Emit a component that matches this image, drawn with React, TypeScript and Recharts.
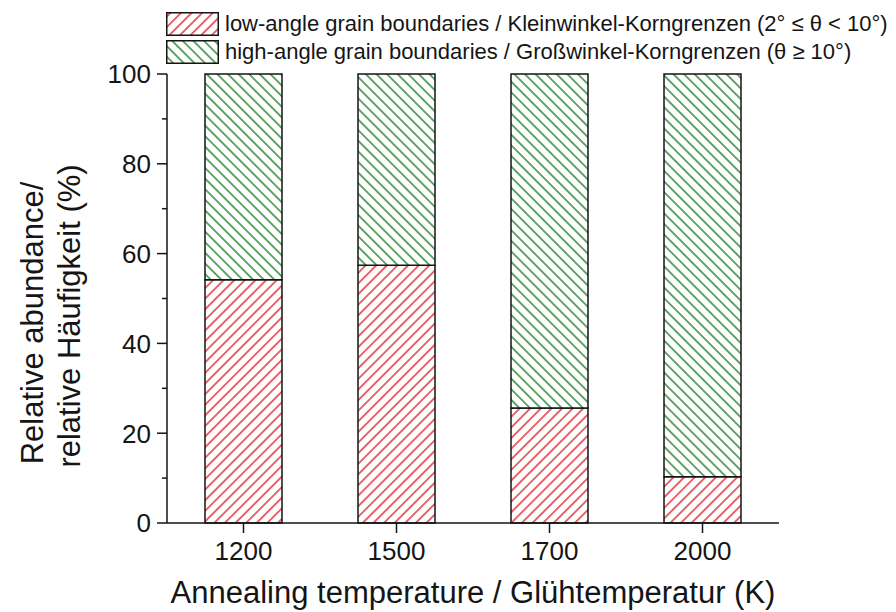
import { BarChart, Bar, XAxis, YAxis } from "recharts";

const temperatures = ["1200", "1500", "1700", "2000"];
const lowAngleShare = [54.2, 57.4, 25.6, 10.3];
const highAngleShare = [45.8, 42.6, 74.4, 89.7];
const yTicks = [0, 10, 20, 30, 40, 50, 60, 70, 80, 90, 100];

const lowLabel = "low-angle grain boundaries / Kleinwinkel-Korngrenzen (2° ≤ θ < 10°)";
const highLabel = "high-angle grain boundaries / Großwinkel-Korngrenzen (θ ≥ 10°)";

const data = temperatures.map((t, i) => ({
  temp: t,
  low: lowAngleShare[i],
  high: highAngleShare[i],
}));

const FONT = "'Liberation Sans', Arial, sans-serif";
const INK = "#151515";
const RED = "#e2343c";
const GREEN = "#2e8a38";

function Hatch({ id, color, angle }: { id: string; color: string; angle: number }) {
  return (
    <pattern id={id} width={7.5} height={7.5} patternUnits="userSpaceOnUse" patternTransform={`rotate(${angle})`}>
      <rect width={7.5} height={7.5} fill="#fff" />
      <line x1={3.75} y1={0} x2={3.75} y2={7.5} stroke={color} strokeWidth={1.5} />
    </pattern>
  );
}

const LeftTick = (props: any) => {
  const { x, y, payload } = props;
  const major = payload.value % 20 === 0;
  return (
    <g>
      <line x1={x - (major ? 10 : 5)} x2={x} y1={y} y2={y} stroke={INK} strokeWidth={1.5} />
      {major && (
        <text x={x - 16} y={y} dy="0.36em" textAnchor="end" fontSize={26} fill={INK} fontFamily={FONT}>
          {payload.value}
        </text>
      )}
    </g>
  );
};

const RightTick = (props: any) => {
  const { x, y, payload } = props;
  const major = payload.value % 20 === 0;
  return <line x1={x - (major ? 11 : 5)} x2={x} y1={y} y2={y} stroke={INK} strokeWidth={1.5} />;
};

const YTitle = () => (
  <g fontFamily={FONT} fontSize={31} fill={INK}>
    <text transform="translate(32,323) rotate(-90)" textAnchor="middle" dominantBaseline="central">
      Relative abundance/
    </text>
    <text transform="translate(69,316) rotate(-90)" textAnchor="middle" dominantBaseline="central">
      relative Häufigkeit (%)
    </text>
  </g>
);

function LegendRow({ fill, label, top, height }: { fill: string; label: string; top: number; height: number }) {
  return (
    <div style={{ position: "absolute", left: 166, top, height, display: "flex", alignItems: "center" }}>
      <svg width={53} height={height} style={{ display: "block" }}>
        <rect x={0.75} y={0.75} width={51.5} height={height - 1.5} fill={fill} stroke={INK} strokeWidth={1.5} />
      </svg>
      <span style={{ marginLeft: 6, fontSize: 22, color: INK, whiteSpace: "nowrap" }}>{label}</span>
    </div>
  );
}

export default function App() {
  return (
    <div style={{ position: "absolute", left: 0, top: 0, width: 896, height: 612, background: "#fff", fontFamily: FONT }}>
      <svg width={0} height={0} style={{ position: "absolute" }}>
        <defs>
          <Hatch id="hatchRed" color={RED} angle={45} />
          <Hatch id="hatchGreen" color={GREEN} angle={-45} />
        </defs>
      </svg>
      <BarChart width={896} height={612} data={data} margin={{ top: 74, right: 117, bottom: 0, left: 0 }} barSize={77}>
        <XAxis
          dataKey="temp"
          height={89}
          tickSize={10}
          tickMargin={9}
          axisLine={{ stroke: INK, strokeWidth: 1.5 }}
          tickLine={{ stroke: INK, strokeWidth: 1.5 }}
          tick={{ fontSize: 26, fill: INK, fontFamily: FONT }}
          label={{ value: "Annealing temperature / Glühtemperatur (K)", position: "insideBottom", offset: 9, fontSize: 31, fill: INK, fontFamily: FONT }}
        />
        <XAxis
          xAxisId="top"
          dataKey="temp"
          orientation="top"
          height={0}
          tick={false}
          tickLine={false}
          axisLine={{ stroke: INK, strokeWidth: 1.5 }}
        />
        <YAxis
          width={167}
          domain={[0, 100]}
          ticks={yTicks}
          interval={0}
          tickSize={0}
          tickMargin={0}
          tickLine={false}
          axisLine={{ stroke: INK, strokeWidth: 1.5 }}
          tick={LeftTick}
          label={{ content: YTitle }}
        />
        <YAxis
          yAxisId="right"
          orientation="right"
          width={0}
          domain={[0, 100]}
          ticks={yTicks}
          interval={0}
          tickSize={0}
          tickMargin={0}
          tickLine={false}
          axisLine={{ stroke: INK, strokeWidth: 1.5 }}
          tick={RightTick}
        />
        <Bar dataKey="low" stackId="s" fill="url(#hatchRed)" stroke={INK} strokeWidth={1.5} isAnimationActive={false} />
        <Bar dataKey="high" stackId="s" fill="url(#hatchGreen)" stroke={INK} strokeWidth={1.5} isAnimationActive={false} />
      </BarChart>
      <LegendRow fill="url(#hatchRed)" label={lowLabel} top={12} height={24} />
      <LegendRow fill="url(#hatchGreen)" label={highLabel} top={40} height={24} />
    </div>
  );
}
